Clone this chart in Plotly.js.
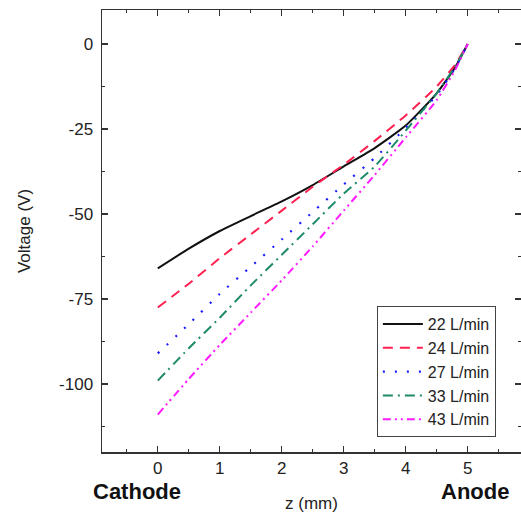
<!DOCTYPE html>
<html>
<head>
<meta charset="utf-8">
<script src="https://cdn.plot.ly/plotly-3.0.1.min.js"></script>
<style>html,body{margin:0;padding:0;background:#fff;overflow:hidden;}</style>
</head>
<body>
<div id="chart" style="width:521px;height:515px;"></div>
<script>
const zPos = [0, 0.5, 1, 1.5, 2, 2.5, 3, 3.5, 4, 4.5, 4.8, 5];
const v22 = [-66, -60.2, -55, -50.6, -46.3, -41.5, -36, -30.6, -24, -14.5, -6.8, 0];
const v24 = [-77.5, -70.5, -63, -56, -49, -42, -35.5, -28.5, -21, -12.5, -6, 0];
const v27 = [-91, -82.4, -73.5, -65.5, -57.5, -49.4, -41.3, -33.5, -24.7, -15, -7, 0];
const v33 = [-99, -89.5, -80.5, -71, -62, -53, -44, -36, -25.5, -14.5, -6.5, 0];
const v43 = [-109, -98.5, -88.5, -79, -69.5, -59.5, -49, -38.5, -27.5, -16.5, -7.5, 0];
const seriesNames = ['22 L/min', '24 L/min', '27 L/min', '33 L/min', '43 L/min'];
const xTickVals = [0, 1, 2, 3, 4, 5];
const yTickVals = [0, -25, -50, -75, -100];

const colors = ['#111111', '#ff2050', '#1a1aff', '#1f8a6a', '#ff1aff'];
const dashes = ['solid', '10px,7px', '2px,10px', '10px,5px,2px,5px', '8px,4px,2px,4px,2px,4px'];
const widths = [2, 2, 2.2, 2, 2];
const ys = [v22, v24, v27, v33, v43];

const traces = ys.map((y, i) => ({
  x: zPos, y: y, type: 'scatter', mode: 'lines', name: seriesNames[i],
  line: {color: colors[i], dash: dashes[i], width: widths[i], shape: 'spline', smoothing: 0.5}
}));

const FONT = 'Arial, Liberation Sans';
const axisCommon = {
  showline: true, linecolor: '#333', linewidth: 1.5, mirror: 'allticks',
  ticks: 'inside', ticklen: 6, tickwidth: 1.2, tickcolor: '#333',
  showgrid: false, zeroline: false,
  tickfont: {family: FONT, size: 17, color: '#222'}
};

const layout = {
  width: 521, height: 515,
  margin: {l: 102, r: 0, t: 10, b: 63},
  paper_bgcolor: '#fff', plot_bgcolor: '#fff',
  showlegend: true,
  xaxis: Object.assign({}, axisCommon, {
    range: [-0.9, 5.86], tickvals: xTickVals, ticktext: xTickVals.map(String),
    minor: {dtick: 0.5, tick0: 0, ticks: 'inside', ticklen: 3, tickwidth: 1.2, tickcolor: '#333'},
    title: {text: 'z (mm)', font: {family: FONT, size: 17, color: '#222'}, standoff: 20}
  }),
  yaxis: Object.assign({}, axisCommon, {
    range: [-120, 10], tickvals: yTickVals, ticktext: yTickVals.map(String),
    minor: {dtick: 12.5, tick0: 0, ticks: 'inside', ticklen: 3, tickwidth: 1.2, tickcolor: '#333'},
    ticklabelstandoff: 4,
    title: {text: 'Voltage (V)', font: {family: FONT, size: 17, color: '#222'}, standoff: 24}
  }),
  legend: {
    x: 0.656, y: 0.33, xanchor: 'left', yanchor: 'top',
    bgcolor: '#fff', bordercolor: '#444', borderwidth: 1,
    font: {family: FONT, size: 16, color: '#222'},
    tracegroupgap: 0, itemwidth: 40
  },
  annotations: [
    {text: '<b>Cathode</b>', xref: 'paper', yref: 'paper', x: 0.084, y: -0.09, xanchor: 'center', yanchor: 'middle', showarrow: false,
     font: {family: FONT, size: 22, color: '#111'}},
    {text: '<b>Anode</b>', xref: 'paper', yref: 'paper', x: 0.89, y: -0.09, xanchor: 'center', yanchor: 'middle', showarrow: false,
     font: {family: FONT, size: 22, color: '#111'}}
  ]
};

Plotly.newPlot('chart', traces, layout, {displayModeBar: false, staticPlot: true});
</script>
</body>
</html>
